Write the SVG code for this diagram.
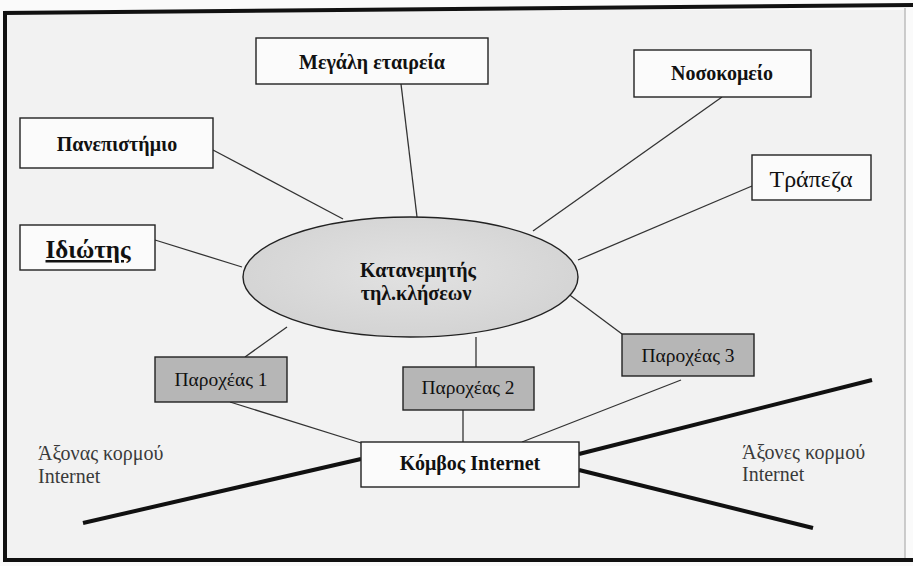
<svg xmlns="http://www.w3.org/2000/svg" width="913" height="566" viewBox="0 0 913 566">
  <defs>
    <radialGradient id="ellFill" cx="50%" cy="45%" r="60%">
      <stop offset="0" stop-color="#e2e2e2"/>
      <stop offset="1" stop-color="#d2d2d2"/>
    </radialGradient>
    <style>
      .box { fill: #fbfbfb; stroke: #222; stroke-width: 1.4; }
      .prov { fill: #b6b6b6; stroke: #222; stroke-width: 1.4; }
      .lbl { font-family: "Liberation Serif", "DejaVu Serif", serif; fill: #111; text-anchor: middle; }
      .b { font-weight: bold; }
      .note { font-family: "Liberation Serif", "DejaVu Serif", serif; fill: #3a3a3a; font-size: 20px; }
      .thin { stroke: #333; stroke-width: 1.3; fill: none; }
      .thick { stroke: #111; stroke-width: 4; fill: none; stroke-linecap: butt; }
      .frame { stroke: #111; stroke-width: 4; fill: none; }
    </style>
  </defs>

  <rect x="0" y="0" width="913" height="566" fill="#fafafa"/>
  <rect x="5" y="10" width="900" height="550" fill="#f2f2f2"/>

  <g id="frame">
    <line class="frame" x1="3" y1="13" x2="913" y2="5"/>
    <line class="frame" x1="5" y1="11" x2="5" y2="562"/>
    <line class="frame" x1="3" y1="560" x2="913" y2="560"/>
    <line x1="905" y1="8" x2="905" y2="558" stroke="#bdbdbd" stroke-width="1.5"/>
  </g>

  <g id="connectors">
    <line class="thin" x1="213" y1="150" x2="343" y2="219"/>
    <line class="thin" x1="155" y1="240" x2="242" y2="267"/>
    <line class="thin" x1="401" y1="84" x2="417" y2="217"/>
    <line class="thin" x1="722" y1="97" x2="533" y2="231"/>
    <line class="thin" x1="752" y1="186" x2="578" y2="260"/>
    <line class="thin" x1="563" y1="290" x2="622" y2="334"/>
    <line class="thin" x1="476" y1="337" x2="476" y2="367"/>
    <line class="thin" x1="287" y1="327" x2="245" y2="357"/>
    <line class="thin" x1="230" y1="402" x2="361" y2="443"/>
    <line class="thin" x1="463" y1="410" x2="463" y2="442"/>
    <line class="thin" x1="681" y1="380" x2="522" y2="442"/>
    <line class="thick" x1="83" y1="523" x2="361" y2="459"/>
    <line class="thick" x1="579" y1="454" x2="872" y2="380"/>
    <line class="thick" x1="579" y1="470" x2="813" y2="528"/>
  </g>

  <g id="megali">
    <rect class="box" x="256" y="38" width="232" height="46"/>
    <text class="lbl b" x="372" y="69" font-size="20">Μεγάλη εταιρεία</text>
  </g>
  <g id="nosokomeio">
    <rect class="box" x="634" y="50" width="177" height="47"/>
    <text class="lbl b" x="722" y="80" font-size="20">Νοσοκομείο</text>
  </g>
  <g id="panepistimio">
    <rect class="box" x="20" y="118" width="193" height="50"/>
    <text class="lbl b" x="117" y="151" font-size="20">Πανεπιστήμιο</text>
  </g>
  <g id="idiotis">
    <rect class="box" x="20" y="225" width="135" height="45"/>
    <text class="lbl b" x="88" y="258" font-size="25" text-decoration="underline">Ιδιώτης</text>
  </g>
  <g id="trapeza">
    <rect class="box" x="752" y="155" width="119" height="45"/>
    <text class="lbl" x="811" y="187" font-size="24">Τράπεζα</text>
  </g>
  <g id="katanemitis">
    <ellipse cx="410.5" cy="277" rx="167.5" ry="60" fill="url(#ellFill)" stroke="#222" stroke-width="1.4"/>
    <text class="lbl b" x="418" y="277" font-size="20">Κατανεμητής</text>
    <text class="lbl b" x="416" y="300" font-size="20">τηλ.κλήσεων</text>
  </g>
  <g id="parochos1">
    <rect class="prov" x="155" y="357" width="132" height="45"/>
    <text class="lbl" x="221" y="386" font-size="19.5">Παροχέας 1</text>
  </g>
  <g id="parochos2">
    <rect class="prov" x="403" y="367" width="131" height="43"/>
    <text class="lbl" x="468" y="394" font-size="19.5">Παροχέας 2</text>
  </g>
  <g id="parochos3">
    <rect class="prov" x="622" y="334" width="132" height="42"/>
    <text class="lbl" x="688" y="362" font-size="19.5">Παροχέας 3</text>
  </g>
  <g id="komvos">
    <rect class="box" x="361" y="442" width="218" height="45"/>
    <text class="lbl b" x="470" y="470" font-size="20">Κόμβος Internet</text>
  </g>

  <g id="labels">
    <text class="note" x="38" y="460">Άξονας κορμού</text>
    <text class="note" x="38" y="483">Internet</text>
    <text class="note" x="742" y="459">Άξονες κορμού</text>
    <text class="note" x="742" y="481">Internet</text>
  </g>
</svg>
